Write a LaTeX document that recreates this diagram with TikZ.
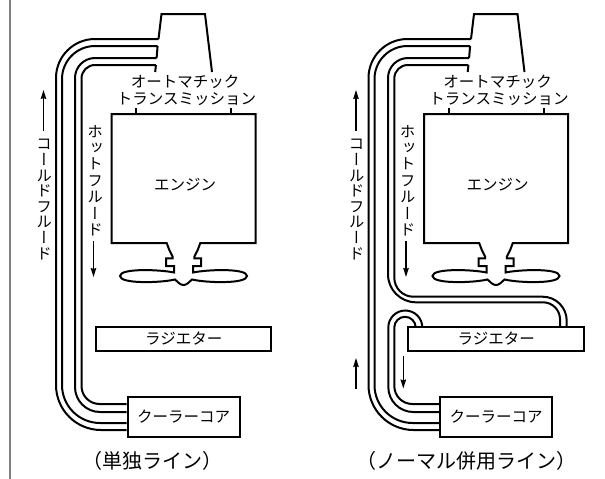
\documentclass[tikz,border=0pt]{standalone}
\usepackage{fontspec}
\setmainfont{Noto Sans CJK JP}
\newfontfamily\vertfont[RawFeature=+vert]{Noto Sans CJK JP}
\usetikzlibrary{arrows.meta}
\newcommand{\vstack}[2]{\parbox{17pt}{\centering\vertfont\fontsize{15.5}{#1}\selectfont\lineskiplimit=-100pt\relax #2\par}}
\tikzset{
  x=1pt,y=-1pt,
  outline/.style={line width=2pt,line join=miter,black},
  pipe/.style={outline},
  flow/.style={line width=1.5pt,-{Stealth[length=9pt,width=5.5pt,inset=1pt]}},
  txt/.style={inner sep=0pt,text height=13.2pt,text depth=1.8pt,font=\fontsize{15.5}{16}\selectfont},
  boxed/.style={txt,draw=black,line width=2pt},
  vlabel/.style={inner sep=0pt},
  caption/.style={inner sep=0pt,text height=17pt,text depth=2.4pt,font=\fontsize{20}{20}\selectfont},
}
\newcommand{\unitcommon}[1]{%
  % transmission
  \coordinate (ta#1) at (158.5,39);
  \coordinate (tb#1) at (157.6,46);
  \coordinate (tc#1) at (156.6,58);
  \coordinate (td#1) at (155.9,65);
  \coordinate (te#1) at (155.2,72);
  \draw[outline] (212,72) -- (205,14) -- (161.5,14) -- (ta#1);
  \draw[outline] (tb#1) -- (tc#1);
  \draw[outline] (td#1) -- (te#1);
  \node[txt] (tm1#1) at (185,81.5) {オートマチック};
  \node[txt] (tm2#1) at (186.5,99) {トランスミッション};
  % engine
  \coordinate (esw#1) at (111.5,243);
  \coordinate (ene#1) at (255.5,114);
  \node[txt] (engine#1) at (185,185) {エンジン};
  \draw[outline] (esw#1) |- (ene#1) |- (200.3,243)
    -- (197.7,250) -- (194.3,256.7) -- (194.3,258.3) -- (201,258.3) -- (201,266) -- (193,266) -- (193,272.5)
    .. controls (207,269.5) and (247,268) .. (247,276)
    .. controls (247,284) and (207,283) .. (192,279.5)
    .. controls (189,282) and (187,285) .. (183.5,285)
    .. controls (180,285) and (178,282) .. (175,279.5)
    .. controls (160,283) and (120,284) .. (120,276)
    .. controls (120,268) and (160,269.5) .. (174,272.5)
    -- (174,266) -- (166,266) -- (166,258.3) -- (172.7,258.3) -- (172.7,256.7) -- (169.3,250) -- (166.7,243) -- cycle;
  \draw[outline] (136,108) -- (136,114);
  \draw[outline] (231,108) -- (231,114);
  % radiator and cooler core
  \node[boxed,minimum width=175.5pt,minimum height=23.5pt] (rad#1) at (183.7,339.2) {ラジエター};
  \node[boxed,minimum width=112pt,minimum height=40pt] (core#1) at (183.5,416.7) {クーラーコア};
  % outer pair of pipes
  \draw[pipe] (ta#1) -- (95,39) arc[start angle=-90,end angle=-180,radius=39] -- (56,385) arc[start angle=180,end angle=90,radius=45] -- (core#1.west |- 0,430);
  \draw[pipe] (tb#1) -- (95,46) arc[start angle=-90,end angle=-180,radius=33] -- (62,385) arc[start angle=180,end angle=90,radius=38] -- (core#1.west |- 0,423);
  % labels and flow arrows
  \coordinate (ca#1) at (43.5,131);
  \coordinate (cb#1) at (43.5,90);
  \draw[flow] (ca#1) -- (cb#1);
  \node[vlabel] (cold#1) at (44,199.5) {\vstack{15.6pt}{コ\\ー\\ル\\ド\\フ\\ル\\ー\\ド}};
  \node[vlabel] (hot#1) at (95,180.5) {\vstack{16.4pt}{ホ\\ッ\\ト\\フ\\ル\\ー\\ド}};
  \coordinate (ha#1) at (93.5,241);
  \coordinate (hb#1) at (93.5,277);
  \draw[flow] (ha#1) -- (hb#1);
}
\begin{document}
\begin{tikzpicture}
\useasboundingbox (0,0) rectangle (605,479);
\fill[white] (0,0) rectangle (605,479);
\draw[line width=2pt,gray] (9.5,0) -- (9.5,479);
% left: separate line
\unitcommon{L}
\draw[pipe] (tcL) -- (95,58) arc[start angle=-90,end angle=-180,radius=20] -- (75,387) arc[start angle=180,end angle=90,radius=25] -- (coreL.west |- 0,412);
\draw[pipe] (tdL) -- (95,65) arc[start angle=-90,end angle=-180,radius=13.5] -- (81.5,386) arc[start angle=180,end angle=90,radius=18] -- (coreL.west |- 0,404);
\node[caption] (capL) at (152.5,461.5) {（単独ライン）};
% right: combined with normal line
\begin{scope}[xshift=312.5pt]
\unitcommon{R}
\draw[pipe] (tcR) -- (95.5,58) arc[start angle=-90,end angle=-180,radius=20] -- (75.5,274.3) arc[start angle=180,end angle=90,radius=28] -- (230.5,302.3) arc[start angle=-90,end angle=0,radius=17] -- (247.5,327.5);
\draw[pipe] (tdR) -- (95.3,65) arc[start angle=-90,end angle=-180,radius=13.5] -- (81.8,277.7) arc[start angle=180,end angle=90,radius=19] -- (230.2,296.7) arc[start angle=-90,end angle=0,radius=24] -- (254.2,327.5);
\draw[pipe] (109.8,327.5) arc[start angle=0,end angle=-180,radius=17] -- (75.8,387) arc[start angle=180,end angle=90,radius=25] -- (coreR.west |- 0,412);
\draw[pipe] (103.2,327.5) arc[start angle=0,end angle=-180,radius=10.7] -- (81.8,386) arc[start angle=180,end angle=90,radius=18] -- (coreR.west |- 0,404);
\coordinate (cc) at (43.5,388.5);
\coordinate (cd) at (43.5,358);
\draw[flow] (cc) -- (cd);
\coordinate (he) at (90.8,356);
\coordinate (hf) at (90.8,388.5);
\draw[flow] (he) -- (hf);
\end{scope}
\node[caption] (capR) at (466,461.5) {（ノーマル併用ライン）};
\end{tikzpicture}
\end{document}
